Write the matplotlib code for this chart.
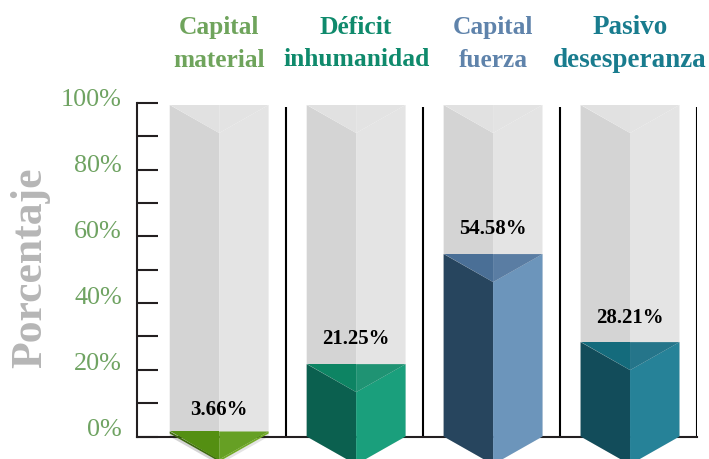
import matplotlib
matplotlib.use('Agg')
import matplotlib.pyplot as plt
import matplotlib.transforms as mtrans
import numpy as np

plt.rcParams['font.family'] = ['Liberation Serif', 'DejaVu Serif']

categories = ['Capital\nmaterial', 'Déficit\ninhumanidad', 'Capital\nfuerza', 'Pasivo\ndesesperanza']
title_colors = ['#6fa45c', '#0f8a6c', '#5f83ab', '#197c8e']
title_sizes = [18.3, 18.4, 18.3, 19.5]
title_spacing = [1.51, 1.5, 1.51, 1.42]
value_labels = ['3.66%', '21.25%', '54.58%', '28.21%']
# heights as drawn in the picture, the green one is shorter than its label says
bar_heights = [1.5, 21.7, 54.7, 28.3]
bar_bases = [0.9, 0, 0, 0]
label_offsets = [15.5, 18.0, 18.0, 17.6]
left_colors = ['#3f6a10', '#0b604f', '#27455e', '#124c5a']
right_colors = ['#72ab26', '#1a9f7c', '#6c95bb', '#268298']
top_left_colors = ['#548f12', '#0d8463', '#4a6f96', '#146b7c']
top_right_colors = ['#66a024', '#1f9373', '#5a7da3', '#25758a']

W, H = 709, 459
fig = plt.figure(figsize=(W / 100, H / 100), dpi=100)
ax = fig.add_axes([137 / W, 1 - 436.5 / H, (697 - 137) / W, (436.5 - 103) / H])
ax.set_xlim(-0.6, 3.489)
ax.set_ylim(0, 100)

half = 0.361
fold = 8.4
grey_top = 99.4


def drawBox(x, top, base, c_left, c_right, c_tleft, c_tright, z):
    ax.fill([x - half, x, x, x - half], [top, top - fold, base - fold, base], color=c_left, lw=0, zorder=z, clip_on=False)
    ax.fill([x, x + half, x + half, x], [top - fold, top, base, base - fold], color=c_right, lw=0, zorder=z, clip_on=False)
    ax.fill([x - half, x, x], [top, top, top - fold], color=c_tleft, lw=0, zorder=z, clip_on=False)
    ax.fill([x, x + half, x], [top, top, top - fold], color=c_tright, lw=0, zorder=z, clip_on=False)


xs = np.arange(len(categories))
for i, x in enumerate(xs):
    drawBox(x, grey_top, 0, '#d4d4d4', '#e4e4e4', '#e1e1e1', '#e3e3e3', 1)
    drawBox(x, bar_heights[i], bar_bases[i], left_colors[i], right_colors[i], top_left_colors[i], top_right_colors[i], 4)
    ax.annotate(value_labels[i], (x, bar_heights[i]), xytext=(0, label_offsets[i]), textcoords='offset points',
                ha='center', va='center', fontsize=15, fontweight='bold', color='black', zorder=5)
    ax.annotate(categories[i], (x, 1), xycoords=('data', 'axes fraction'), xytext=(0, 42.5), textcoords='offset points',
                ha='center', va='center', fontsize=title_sizes[i], fontweight='bold', color=title_colors[i],
                linespacing=title_spacing[i], annotation_clip=False)

ax.vlines(xs + 0.489, 0, 98.7, color='black', lw=1.5, zorder=2)

for s in ['top', 'right']:
    ax.spines[s].set_visible(False)
for s in ['left', 'bottom']:
    ax.spines[s].set_color('#231f20')
    ax.spines[s].set_linewidth(1.5)
    ax.spines[s].set_zorder(3)

ax.set_xticks([])
ax.set_yticks(np.arange(0, 101, 20))
ax.set_yticks(np.arange(10, 100, 20), minor=True)
ax.set_yticklabels(['%d%%' % v for v in range(0, 101, 20)])
ax.tick_params(axis='y', which='both', direction='in', length=15, width=1.5, color='#231f20')
ax.tick_params(axis='y', which='major', pad=10.8, labelsize=18.8, labelcolor='#6fa362')
# labels sit a little above their ticks
for v, lab in zip(range(0, 101, 20), ax.get_yticklabels()):
    shift = (9 - 4 * v / 100) / 100
    lab.set_transform(lab.get_transform() + mtrans.ScaledTranslation(0, shift, fig.dpi_scale_trans))

fig.text(30 / W, 1 - 267.5 / H, 'Porcentaje', rotation=90, ha='center', va='center', fontsize=31.5,
         fontweight='bold', color='#b6b6b6')

fig.savefig('out.png', dpi=100)
